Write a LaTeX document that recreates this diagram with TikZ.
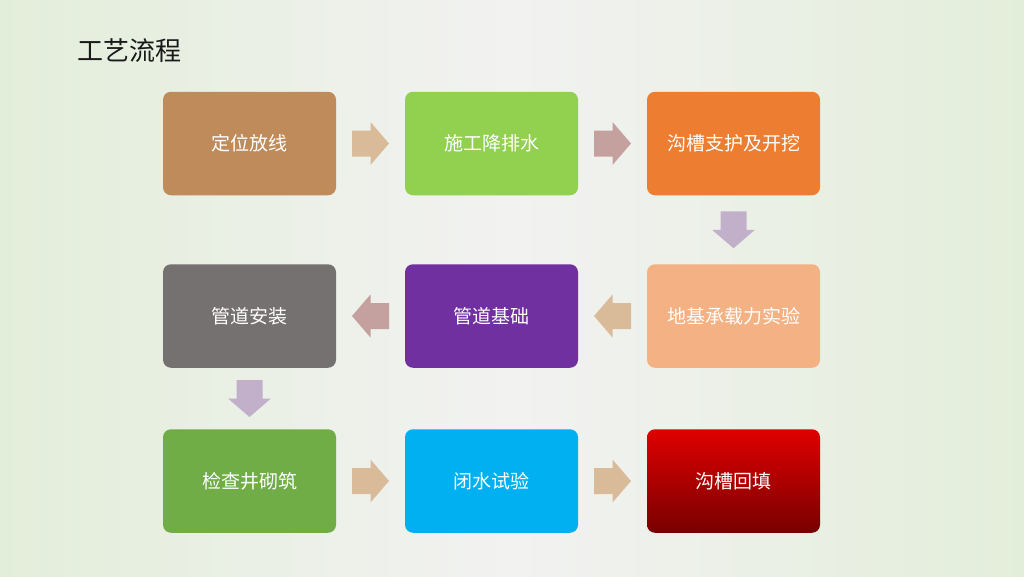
\documentclass[tikz,border=0pt]{standalone}
\usepackage{fontspec}
\setmainfont{Noto Sans CJK SC}
\usetikzlibrary{calc}
\definecolor{bgG}{HTML}{E3EEDA}
\definecolor{bgC}{HTML}{F2F2F1}
\definecolor{cBrown}{HTML}{BF8B5A}
\definecolor{cLGreen}{HTML}{92D050}
\definecolor{cOrange}{HTML}{ED7D31}
\definecolor{cPeach}{HTML}{F4B183}
\definecolor{cPurple}{HTML}{7030A0}
\definecolor{cGray}{HTML}{767171}
\definecolor{cGreen}{HTML}{70AD47}
\definecolor{cCyan}{HTML}{00B0F0}
\definecolor{cRedT}{HTML}{E00000}
\definecolor{cRedB}{HTML}{780000}
\definecolor{aTan}{HTML}{D9BB9A}
\definecolor{aPink}{HTML}{C4A09F}
\definecolor{aLav}{HTML}{C2B0CB}
\pgfdeclarehorizontalshading{bgshade}{100bp}{color(0bp)=(bgG); color(25bp)=(bgG); color(50bp)=(bgC); color(75bp)=(bgG); color(100bp)=(bgG)}
\begin{document}
\begin{tikzpicture}[x=1pt,y=-1pt,
  stepbox/.style={rounded corners=8pt,minimum width=173pt,minimum height=103.5pt,
    inner sep=0pt,text=white,font=\fontsize{19pt}{23pt}\selectfont},
  barrow/.pic={\fill[pic actions] (-18.5,-13) -- (0,-13) -- (0,-21.5) -- (18.5,0)
      -- (0,21.5) -- (0,13) -- (-18.5,13) -- cycle;}
]
\useasboundingbox (0,0) rectangle (1024,576);
\shade[shading=bgshade] (0,0) rectangle (1024,576);
\node[anchor=west,inner sep=0pt,text=black!90,font=\fontsize{26pt}{31pt}\selectfont] (title) at (77,51) {工艺流程};
% row 1
\node[stepbox,fill=cBrown] (b1) at (249.5,143.5) {定位放线};
\node[stepbox,fill=cLGreen] (b2) at (491.5,143.5) {施工降排水};
\node[stepbox,fill=cOrange] (b3) at (733.5,143.5) {沟槽支护及开挖};
% row 2
\node[stepbox,fill=cPeach] (b4) at (733.5,316) {地基承载力实验};
\node[stepbox,fill=cPurple] (b5) at (491.5,316) {管道基础};
\node[stepbox,fill=cGray] (b6) at (249.5,316) {管道安装};
% row 3
\node[stepbox,fill=cGreen] (b7) at (249.5,481) {检查井砌筑};
\node[stepbox,fill=cCyan] (b8) at (491.5,481) {闭水试验};
\node[stepbox,top color=cRedT,bottom color=cRedB] (b9) at (733.5,481) {沟槽回填};
% arrows
\pic[fill=aTan] at ($(b1.east)!0.5!(b2.west)$) {barrow};
\pic[fill=aPink] at ($(b2.east)!0.5!(b3.west)$) {barrow};
\pic[fill=aLav,rotate=-90] at ($(b3.south)!0.5!(b4.north)$) {barrow};
\pic[fill=aTan,rotate=180] at ($(b4.west)!0.5!(b5.east)$) {barrow};
\pic[fill=aPink,rotate=180] at ($(b5.west)!0.5!(b6.east)$) {barrow};
\pic[fill=aLav,rotate=-90] at ($(b6.south)!0.5!(b7.north)$) {barrow};
\pic[fill=aTan] at ($(b7.east)!0.5!(b8.west)$) {barrow};
\pic[fill=aTan] at ($(b8.east)!0.5!(b9.west)$) {barrow};
\end{tikzpicture}
\end{document}
